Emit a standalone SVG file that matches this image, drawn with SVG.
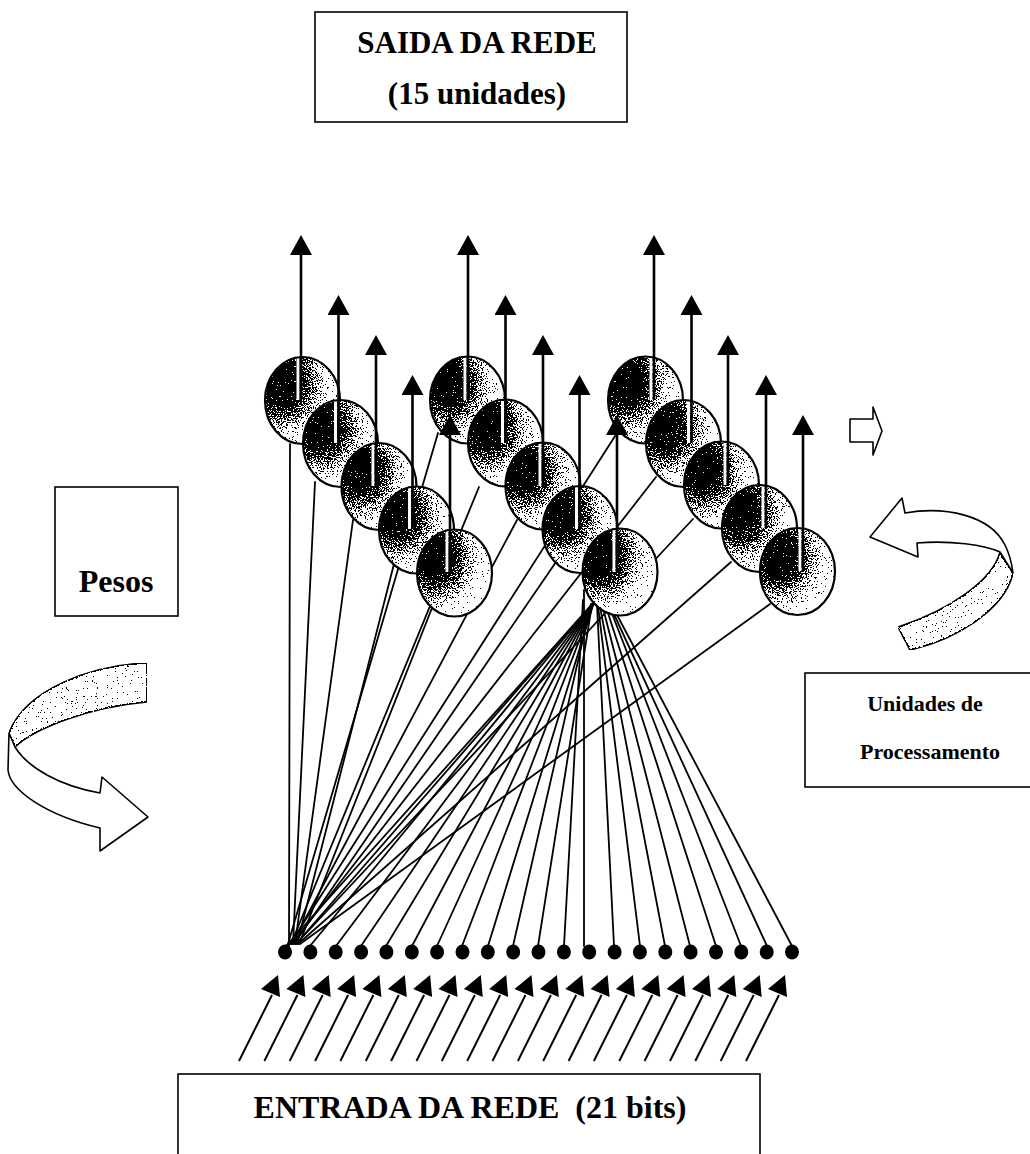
<svg xmlns="http://www.w3.org/2000/svg" xmlns:xlink="http://www.w3.org/1999/xlink" width="1030" height="1154" viewBox="0 0 1030 1154">
<defs>
<style>
.box{fill:#fff;stroke:#000;stroke-width:1.6}
.t{font-family:"Liberation Serif","Times New Roman",serif;font-weight:bold;fill:#000;text-anchor:middle}
.con line{stroke:#000;stroke-width:1.8;stroke-linecap:round}
.shade{fill:url(#sg);filter:url(#stip)}
.rim{fill:none;stroke:#000;stroke-width:2.2}
.hl{stroke:#fff;stroke-width:3}
.out line{stroke:#000;stroke-width:2.6;marker-end:url(#ah)}
.dot{fill:#000}
.rib{stroke:#000;stroke-width:1.6;stroke-linejoin:round}
.back{fill:#ececec;filter:url(#stip)}
</style>
<radialGradient id="sg" cx="0.27" cy="0.33" r="0.8" fx="0.22" fy="0.3">
<stop offset="0" stop-color="#000"/>
<stop offset="0.27" stop-color="#0d0d0d"/>
<stop offset="0.5" stop-color="#7a7a7a"/>
<stop offset="0.74" stop-color="#dedede"/>
<stop offset="1" stop-color="#fff"/>
</radialGradient>
<filter id="stip" x="0" y="0" width="1" height="1" color-interpolation-filters="sRGB">
<feTurbulence type="fractalNoise" baseFrequency="0.8" numOctaves="2" seed="7" result="noise"/>
<feColorMatrix in="noise" type="matrix" values="-2 0 0 0 1.5  -2 0 0 0 1.5  -2 0 0 0 1.5  0 0 0 0 1" result="inv"/>
<feComposite in="SourceGraphic" in2="inv" operator="arithmetic" k1="0" k2="1" k3="1" k4="-0.5" result="sum"/>
<feComponentTransfer in="sum" result="bw">
<feFuncR type="discrete" tableValues="0 1"/>
<feFuncG type="discrete" tableValues="0 1"/>
<feFuncB type="discrete" tableValues="0 1"/>
<feFuncA type="discrete" tableValues="1 1"/>
</feComponentTransfer>
<feComposite in="bw" in2="SourceAlpha" operator="in"/>
</filter>
<marker id="ah" markerUnits="userSpaceOnUse" viewBox="0 0 20 22" markerWidth="20" markerHeight="22" refX="10" refY="11" orient="auto">
<path d="M0,0 L20,11 L0,22 Z" fill="#000"/>
</marker>
<g id="inarrow"><line x1="-46" y1="1061" x2="-13" y2="995" stroke="#000" stroke-width="2"/><polygon points="-24,989 -7,975 -5,997" fill="#000"/></g>
</defs>
<rect width="1030" height="1154" fill="#fff"/>

<g id="saida">
<rect class="box" x="315" y="12" width="312" height="110"/>
<text class="t" x="477" y="53" font-size="31">SAIDA DA REDE</text>
<text class="t" x="477" y="104" font-size="31">(15 unidades)</text>
</g>

<g id="pesos">
<rect class="box" x="55" y="487" width="123" height="129"/>
<text class="t" x="116" y="592" font-size="32">Pesos</text>
</g>

<g id="seta-pesos">
<path class="rib back" d="M147,663 C90,665 25,690 9,733 L15,747 C35,728 90,707 147,702 Z"/>
<path class="rib" fill="#fff" d="M9,733 L8,770 C10,790 45,815 100,828 L100,851 L148,817 L102,777 L100,793 C60,786 28,768 15,747 Z"/>
</g>

<g id="seta-unidades">
<path class="rib back" d="M1000,552 C993,580 950,610 898,627 L910,650 C955,640 1005,610 1013,573 Z"/>
<path class="rib" fill="#fff" d="M870,537 L902,498 L905,513 C945,506 990,515 1005,545 C1010,555 1012,565 1013,573 L1000,552 C985,545 950,540 917,543 L918,557 Z"/>
</g>

<g id="seta-pequena">
<path class="rib" fill="#fff" d="M850,419 L873,419 L873,407 L882,431 L873,455 L873,442 L850,442 Z"/>
</g>

<g id="unidades">
<rect class="box" x="805" y="673" width="240" height="114"/>
<text class="t" x="925" y="711" font-size="22">Unidades de</text>
<text class="t" x="930" y="759" font-size="22">Processamento</text>
</g>

<g id="entrada">
<rect class="box" x="178" y="1074" width="582" height="100"/>
<text class="t" x="470" y="1118" font-size="32" xml:space="preserve">ENTRADA DA REDE  (21 bits)</text>
</g>

<g id="conexoes" class="con">
<line x1="290" y1="444" x2="289" y2="946"/>
<line x1="315" y1="482" x2="293" y2="944"/>
<line x1="353" y1="520" x2="295" y2="944"/>
<line x1="395" y1="560" x2="297" y2="944"/>
<line x1="438" y1="433" x2="288" y2="944"/>
<line x1="432" y1="608" x2="299" y2="944"/>
<line x1="479" y1="487" x2="291" y2="944"/>
<line x1="517" y1="520" x2="292" y2="944"/>
<line x1="556" y1="562" x2="294" y2="944"/>
<line x1="594" y1="602" x2="286" y2="946"/>
<line x1="594" y1="602" x2="296" y2="944"/>
<line x1="617" y1="433" x2="290" y2="944"/>
<line x1="656" y1="477" x2="292" y2="944"/>
<line x1="693" y1="519" x2="296" y2="944"/>
<line x1="731" y1="562" x2="298" y2="944"/>
<line x1="770" y1="604" x2="300" y2="944"/>
<line x1="594" y1="602" x2="310" y2="946"/>
<line x1="594" y1="602" x2="336" y2="946"/>
<line x1="594" y1="602" x2="361" y2="946"/>
<line x1="594" y1="602" x2="386" y2="946"/>
<line x1="594" y1="602" x2="412" y2="946"/>
<line x1="594" y1="602" x2="437" y2="946"/>
<line x1="594" y1="602" x2="462" y2="946"/>
<line x1="594" y1="602" x2="488" y2="946"/>
<line x1="591" y1="604" x2="513" y2="946"/>
<line x1="592" y1="604" x2="538" y2="946"/>
<line x1="583" y1="600" x2="564" y2="946"/>
<line x1="584" y1="590" x2="584" y2="946"/>
<line x1="597" y1="605" x2="614" y2="946"/>
<line x1="598" y1="606" x2="640" y2="946"/>
<line x1="600" y1="607" x2="665" y2="946"/>
<line x1="603" y1="608" x2="690" y2="946"/>
<line x1="607" y1="610" x2="716" y2="946"/>
<line x1="611" y1="611" x2="741" y2="946"/>
<line x1="613" y1="612" x2="767" y2="946"/>
<line x1="616" y1="613" x2="792" y2="946"/>
</g>

<g id="u1"><ellipse class="shade" cx="302.5" cy="400.5" rx="37.5" ry="43.5"/><line class="hl" x1="298" y1="358" x2="298" y2="400"/><ellipse class="rim" cx="302.5" cy="400.5" rx="37.5" ry="43.5"/></g>
<g id="u2"><ellipse class="shade" cx="340.5" cy="443.5" rx="37.5" ry="43.5"/><line class="hl" x1="335.5" y1="401" x2="335.5" y2="443"/><ellipse class="rim" cx="340.5" cy="443.5" rx="37.5" ry="43.5"/></g>
<g id="u3"><ellipse class="shade" cx="379" cy="486.5" rx="37.5" ry="43.5"/><line class="hl" x1="373" y1="444" x2="373" y2="486"/><ellipse class="rim" cx="379" cy="486.5" rx="37.5" ry="43.5"/></g>
<g id="u4"><ellipse class="shade" cx="416.5" cy="530" rx="37.5" ry="43.5"/><line class="hl" x1="409.5" y1="487" x2="409.5" y2="529"/><ellipse class="rim" cx="416.5" cy="530" rx="37.5" ry="43.5"/></g>
<g id="u5"><ellipse class="shade" cx="454.5" cy="573" rx="37.5" ry="43.5"/><line class="hl" x1="447" y1="530" x2="447" y2="572"/><ellipse class="rim" cx="454.5" cy="573" rx="37.5" ry="43.5"/></g>
<g id="u6"><ellipse class="shade" cx="467.5" cy="400" rx="37.5" ry="43.5"/><line class="hl" x1="465" y1="358" x2="465" y2="400"/><ellipse class="rim" cx="467.5" cy="400" rx="37.5" ry="43.5"/></g>
<g id="u7"><ellipse class="shade" cx="505.5" cy="443" rx="37.5" ry="43.5"/><line class="hl" x1="502.5" y1="401" x2="502.5" y2="443"/><ellipse class="rim" cx="505.5" cy="443" rx="37.5" ry="43.5"/></g>
<g id="u8"><ellipse class="shade" cx="543" cy="486" rx="37.5" ry="43.5"/><line class="hl" x1="540" y1="444" x2="540" y2="486"/><ellipse class="rim" cx="543" cy="486" rx="37.5" ry="43.5"/></g>
<g id="u9"><ellipse class="shade" cx="580" cy="529.5" rx="37.5" ry="43.5"/><line class="hl" x1="576.5" y1="487" x2="576.5" y2="529"/><ellipse class="rim" cx="580" cy="529.5" rx="37.5" ry="43.5"/></g>
<g id="u10"><ellipse class="shade" cx="620" cy="572" rx="37.5" ry="43.5"/><line class="hl" x1="614" y1="530" x2="614" y2="572"/><ellipse class="rim" cx="620" cy="572" rx="37.5" ry="43.5"/></g>
<g id="u11"><ellipse class="shade" cx="645.5" cy="400" rx="37.5" ry="43.5"/><line class="hl" x1="651" y1="358" x2="651" y2="400"/><ellipse class="rim" cx="645.5" cy="400" rx="37.5" ry="43.5"/></g>
<g id="u12"><ellipse class="shade" cx="683.5" cy="443.5" rx="37.5" ry="43.5"/><line class="hl" x1="688.5" y1="401" x2="688.5" y2="443"/><ellipse class="rim" cx="683.5" cy="443.5" rx="37.5" ry="43.5"/></g>
<g id="u13"><ellipse class="shade" cx="721.5" cy="485" rx="37.5" ry="43.5"/><line class="hl" x1="725" y1="443" x2="725" y2="485"/><ellipse class="rim" cx="721.5" cy="485" rx="37.5" ry="43.5"/></g>
<g id="u14"><ellipse class="shade" cx="759.5" cy="528.5" rx="37.5" ry="43.5"/><line class="hl" x1="763" y1="486" x2="763" y2="528"/><ellipse class="rim" cx="759.5" cy="528.5" rx="37.5" ry="43.5"/></g>
<g id="u15"><ellipse class="shade" cx="797.5" cy="571.5" rx="37.5" ry="43.5"/><line class="hl" x1="800" y1="529" x2="800" y2="571"/><ellipse class="rim" cx="797.5" cy="571.5" rx="37.5" ry="43.5"/></g>

<g id="saidas" class="out">
<line x1="301" y1="400" x2="301" y2="245"/>
<line x1="338.5" y1="443" x2="338.5" y2="305"/>
<line x1="376" y1="486" x2="376" y2="345"/>
<line x1="412.5" y1="529" x2="412.5" y2="385"/>
<line x1="450" y1="572" x2="450" y2="425"/>
<line x1="468" y1="400" x2="468" y2="245"/>
<line x1="505.5" y1="443" x2="505.5" y2="305"/>
<line x1="543" y1="486" x2="543" y2="345"/>
<line x1="579.5" y1="529" x2="579.5" y2="385"/>
<line x1="617" y1="572" x2="617" y2="425"/>
<line x1="654" y1="400" x2="654" y2="245"/>
<line x1="691.5" y1="443" x2="691.5" y2="305"/>
<line x1="728" y1="485" x2="728" y2="345"/>
<line x1="766" y1="528" x2="766" y2="385"/>
<line x1="803" y1="571" x2="803" y2="425"/>
</g>

<g id="entradas">
<g class="inp">
<use xlink:href="#inarrow" x="285"/>
<use xlink:href="#inarrow" x="310.4"/>
<use xlink:href="#inarrow" x="335.7"/>
<use xlink:href="#inarrow" x="361.1"/>
<use xlink:href="#inarrow" x="386.4"/>
<use xlink:href="#inarrow" x="411.8"/>
<use xlink:href="#inarrow" x="437.1"/>
<use xlink:href="#inarrow" x="462.5"/>
<use xlink:href="#inarrow" x="487.8"/>
<use xlink:href="#inarrow" x="513.2"/>
<use xlink:href="#inarrow" x="538.5"/>
<use xlink:href="#inarrow" x="563.9"/>
<use xlink:href="#inarrow" x="589.2"/>
<use xlink:href="#inarrow" x="614.6"/>
<use xlink:href="#inarrow" x="639.9"/>
<use xlink:href="#inarrow" x="665.3"/>
<use xlink:href="#inarrow" x="690.6"/>
<use xlink:href="#inarrow" x="716"/>
<use xlink:href="#inarrow" x="741.3"/>
<use xlink:href="#inarrow" x="766.7"/>
<use xlink:href="#inarrow" x="792"/>
</g>
<g class="dots">
<ellipse class="dot" cx="285" cy="952" rx="7" ry="7.5"/>
<ellipse class="dot" cx="310.4" cy="952" rx="7" ry="7.5"/>
<ellipse class="dot" cx="335.7" cy="952" rx="7" ry="7.5"/>
<ellipse class="dot" cx="361.1" cy="952" rx="7" ry="7.5"/>
<ellipse class="dot" cx="386.4" cy="952" rx="7" ry="7.5"/>
<ellipse class="dot" cx="411.8" cy="952" rx="7" ry="7.5"/>
<ellipse class="dot" cx="437.1" cy="952" rx="7" ry="7.5"/>
<ellipse class="dot" cx="462.5" cy="952" rx="7" ry="7.5"/>
<ellipse class="dot" cx="487.8" cy="952" rx="7" ry="7.5"/>
<ellipse class="dot" cx="513.2" cy="952" rx="7" ry="7.5"/>
<ellipse class="dot" cx="538.5" cy="952" rx="7" ry="7.5"/>
<ellipse class="dot" cx="563.9" cy="952" rx="7" ry="7.5"/>
<ellipse class="dot" cx="589.2" cy="952" rx="7" ry="7.5"/>
<ellipse class="dot" cx="614.6" cy="952" rx="7" ry="7.5"/>
<ellipse class="dot" cx="639.9" cy="952" rx="7" ry="7.5"/>
<ellipse class="dot" cx="665.3" cy="952" rx="7" ry="7.5"/>
<ellipse class="dot" cx="690.6" cy="952" rx="7" ry="7.5"/>
<ellipse class="dot" cx="716" cy="952" rx="7" ry="7.5"/>
<ellipse class="dot" cx="741.3" cy="952" rx="7" ry="7.5"/>
<ellipse class="dot" cx="766.7" cy="952" rx="7" ry="7.5"/>
<ellipse class="dot" cx="792" cy="952" rx="7" ry="7.5"/>
</g>
</g>
</svg>
